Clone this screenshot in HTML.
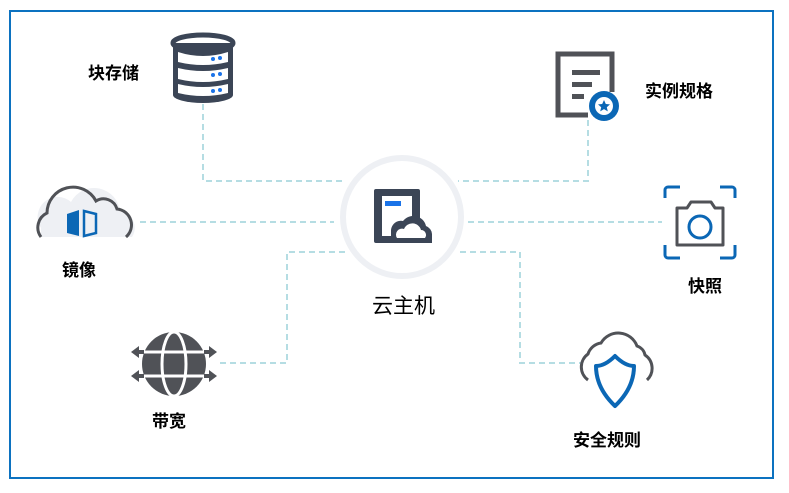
<!DOCTYPE html>
<html><head><meta charset="utf-8"><style>
body{margin:0;background:#fff;width:789px;height:493px;overflow:hidden;font-family:"Liberation Sans","Noto Sans CJK SC",sans-serif;}
.t{position:absolute;font-size:17px;color:#000;white-space:nowrap;font-weight:bold;}
</style></head><body>
<svg width="789" height="493" style="position:absolute;left:0;top:0">
<rect x="10" y="11" width="763" height="467" fill="none" stroke="#0c72c0" stroke-width="2"/>
<g stroke="#b5dde3" stroke-width="2" stroke-dasharray="6,4" fill="none">
<polyline points="203,104 203,181 346,181"/>
<line x1="140" y1="222" x2="334" y2="222"/>
<polyline points="588,120 588,181 458,181"/>
<line x1="468" y1="222" x2="662" y2="222"/>
<polyline points="345,252 287,252 287,363 220,363"/>
<polyline points="460,252 520,252 520,363 582,363"/>
</g>
<circle cx="402" cy="217" r="59" fill="#fff" stroke="#eef0f4" stroke-width="6"/>
<!-- center icon -->
<rect x="374" y="189" width="46" height="54" rx="2" fill="#3b4556"/>
<rect x="382" y="196" width="30" height="40" fill="#fff"/>
<rect x="385" y="201" width="16" height="5" fill="#1a73e8"/>
<path d="M391,243 v-13 a10,10 0 0 1 12,-9 a13,13 0 0 1 23,5 a9,9 0 0 1 6,8 v9 z" fill="#3b4556"/>
<path d="M397,238 a6,6 0 0 1 7,-9 a9,9 0 0 1 17,1 a5,5 0 0 1 4,8 z" fill="#fff"/>
<!-- DB -->
<g>
<ellipse cx="203" cy="43" rx="30" ry="8" fill="none" stroke="#3b4556" stroke-width="5"/>
<path d="M173,43 v52 a30,8 0 0 0 60,0 v-52" fill="#3b4556"/>
<path d="M178,52 q25,8 50,0 v10 q-25,6 -50,0 z M178,68 q25,6 50,0 v11 q-25,6 -50,0 z M178,84 q25,6 50,0 v9 q-25,6 -50,0 z" fill="#fff"/>
<g fill="#1a73e8"><circle cx="213" cy="59" r="2"/><circle cx="220" cy="58" r="2"/><circle cx="213" cy="75" r="2"/><circle cx="220" cy="74" r="2"/><circle cx="213" cy="91" r="2"/><circle cx="220" cy="90" r="2"/></g>
</g>
<!-- doc -->
<path d="M612,92 v-38 h-54 v61 h30" fill="none" stroke="#505257" stroke-width="5"/>
<rect x="572" y="70" width="28" height="5" fill="#505257"/>
<rect x="572" y="82" width="20" height="5" fill="#505257"/>
<rect x="572" y="94" width="12" height="5" fill="#505257"/>
<circle cx="604" cy="106" r="15" fill="#0b67b5"/>
<circle cx="604" cy="106" r="9" fill="#fff"/>
<path d="M604,100 l1.8,4 4.2,.4 -3.2,2.8 1,4.2 -3.8,-2.3 -3.8,2.3 1,-4.2 -3.2,-2.8 4.2,-.4z" fill="#0b67b5"/>
<!-- mirror cloud -->
<path d="M132,237 a16,16 0 0 0 -12,-25 a26,26 0 0 0 -49,-10 a20,20 0 0 0 -30,26 v9 z" fill="#eef0f4"/>
<path d="M41,237 a16,16 0 0 1 6,-24 a26,26 0 0 1 49,-12 a14,14 0 0 1 21,8 a16,16 0 0 1 9,28" fill="none" stroke="#505257" stroke-width="3"/>
<path d="M67,214 l12,-4 v26 l-12,-3 z" fill="#0b67b5"/>
<path d="M84,211 l12,3 v19 l-12,3 z" fill="none" stroke="#0b67b5" stroke-width="2.5"/>
<!-- camera -->
<g fill="none" stroke="#0b67b5" stroke-width="3">
<path d="M665,198 v-8 a3,3 0 0 1 3,-3 h12 M720,187 h12 a3,3 0 0 1 3,3 v8 M735,245 v10 a3,3 0 0 1 -3,3 h-12 M680,258 h-12 a3,3 0 0 1 -3,-3 v-10"/>
</g>
<path d="M677,208 h10 l4,-6 h20 l4,6 h8 v37 h-46 z" fill="none" stroke="#505257" stroke-width="3" stroke-linejoin="round"/>
<circle cx="700" cy="227" r="11" fill="none" stroke="#0b67b5" stroke-width="3"/>
<!-- globe -->
<g>
<ellipse cx="174" cy="364" rx="32" ry="32" fill="#505257"/>
<g stroke="#fff" stroke-width="3" fill="none">
<line x1="140" y1="352" x2="208" y2="352"/><line x1="140" y1="376" x2="208" y2="376"/>
<ellipse cx="174" cy="364" rx="12" ry="32"/>
</g>
<g fill="#505257">
<path d="M131,352 l8,-6 v12 z M217,352 l-8,-6 v12 z M131,376 l8,-6 v12 z M217,376 l-8,-6 v12 z"/>
<rect x="136" y="350" width="8" height="4"/><rect x="204" y="350" width="8" height="4"/><rect x="136" y="374" width="8" height="4"/><rect x="204" y="374" width="8" height="4"/>
</g>
</g>
<!-- security -->
<path d="M588,380 a16,16 0 0 1 0,-26 a16,16 0 0 1 13,-11 a20,20 0 0 1 36,3 a12,12 0 0 1 8,9 a16,16 0 0 1 2,25" fill="none" stroke="#505257" stroke-width="3"/>
<path d="M615,356 q-10,10 -19,10 q0,22 19,40 q19,-18 19,-40 q-9,0 -19,-10 z" fill="#fff" stroke="#0b67b5" stroke-width="4" stroke-linejoin="round"/>
</svg>
<div class="t" style="left:88px;top:59px">块存储</div>
<div class="t" style="left:645px;top:77px">实例规格</div>
<div class="t" style="left:62px;top:256px">镜像</div>
<div class="t" style="left:688px;top:272px">快照</div>
<div class="t" style="left:372px;top:290px;font-size:21px;font-weight:normal">云主机</div>
<div class="t" style="left:152px;top:407px">带宽</div>
<div class="t" style="left:573px;top:426px">安全规则</div>
</body></html>
